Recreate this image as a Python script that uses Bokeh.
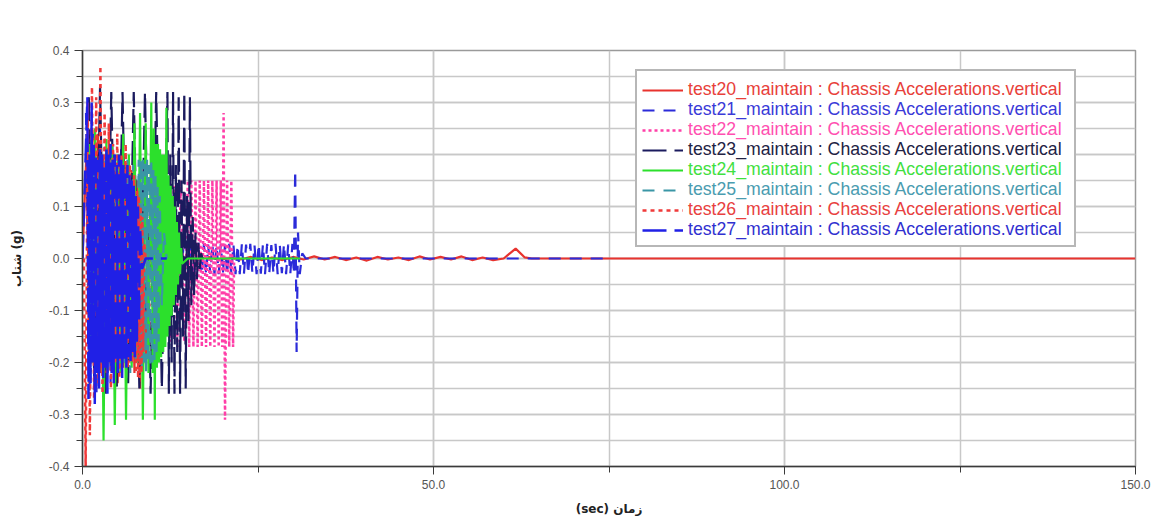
from bokeh.plotting import figure
from bokeh.models import (Range1d, SingleIntervalTicker, NumeralTickFormatter,
                          Legend, LegendItem)
from bokeh.embed import file_html
from bokeh.resources import INLINE

# ---------------- data ----------------
names = ["test20_maintain", "test21_maintain", "test22_maintain", "test23_maintain",
         "test24_maintain", "test25_maintain", "test26_maintain", "test27_maintain"]
quantity = "Chassis Accelerations.vertical"

t20 = [0.0, 0.6, 1.0, 1.4, 1.8, 2.2, 2.6, 3.0, 3.4, 3.8, 4.2, 4.6, 5.0, 5.4, 5.8, 6.2,
       6.6, 7.0, 7.4, 7.8, 8.2, 8.6, 9.0, 9.4, 9.8, 10.5,
       12.0, 13.5, 15.0, 16.5, 18.0, 19.5, 21.0, 22.5, 24.0, 25.5, 27.0, 28.5, 30.0,
       31.5, 33.0, 34.5, 36.0, 37.5, 39.0, 40.5, 42.0, 43.5, 45.0, 46.5, 48.0, 49.5,
       51.0, 52.5, 54.0, 55.5, 57.0, 58.5,
       60.0, 61.7, 63.0, 64.0, 150.0]
v20 = [0.0, 0.22, -0.24, 0.25, -0.2, 0.24, -0.22, 0.2, -0.23, 0.22, -0.2, 0.19, -0.24,
       0.2, -0.21, 0.18, -0.2, 0.17, -0.22, 0.15, -0.25, 0.1, -0.2, 0.05, -0.02, 0.0,
       0.002, -0.003, 0.003, -0.002, 0.003, -0.003, 0.002, -0.002, 0.003, -0.003, 0.002,
       -0.003, 0.003, -0.002, 0.004, -0.002, 0.003, -0.003, 0.002, -0.004, 0.003, -0.002,
       0.002, -0.003, 0.004, -0.002, 0.003, -0.002, 0.004, -0.003, 0.002, -0.003,
       0.0, 0.019, 0.002, 0.0, 0.0]

t21 = [0.5, 1.0, 1.5, 2.0, 2.5, 3.0, 3.5, 4.0, 4.5, 5.0, 5.5, 6.0, 6.5, 7.0, 7.5, 8.0, 8.5,
       9.0, 9.5, 10.0, 10.5, 11.0, 11.5, 12.0, 12.5, 13.0, 13.5, 14.0, 14.5, 15.0, 15.5,
       16.0, 16.5, 17.0,
       17.3, 17.6, 17.9, 18.2, 18.5, 18.8, 19.1, 19.4, 19.7, 20.0, 20.3, 20.6, 20.9, 21.2,
       21.5, 21.8, 22.1, 22.4, 22.7, 23.0, 23.3, 23.6, 23.9, 24.2, 24.5, 24.8, 25.1, 25.4,
       25.7, 26.0, 26.3, 26.6, 26.9, 27.2, 27.5, 27.8, 28.1, 28.4, 28.7, 29.0, 29.3, 29.6,
       29.9,
       30.1, 30.3, 30.5, 30.7, 30.95, 31.3, 31.8, 75.0]
v21 = [0.28, -0.25, 0.24, -0.26, 0.25, -0.22, 0.22, -0.24, 0.2, -0.22, 0.21, -0.2, 0.18,
       -0.2, 0.16, -0.18, 0.12,
       -0.1, 0.08, -0.08, 0.07, -0.07, 0.06, -0.06, 0.05, -0.05, 0.05, -0.04, 0.04, -0.04,
       0.035, -0.035, 0.03, -0.03,
       0.028, -0.03, 0.027, -0.029, 0.028, -0.03, 0.026, -0.03, 0.028, -0.029, 0.027,
       -0.03, 0.028, -0.028, 0.027, -0.03, 0.026, -0.03, 0.028, -0.029, 0.027, -0.03,
       0.028, -0.028, 0.026, -0.03, 0.028, -0.029, 0.027, -0.03, 0.028, -0.03, 0.026,
       -0.029, 0.028, -0.03, 0.027, -0.028, 0.028, -0.03, 0.027, -0.03, 0.028,
       -0.03, 0.17, -0.18, 0.05, -0.03, 0.01, 0.0, 0.0]

t22 = [1.0, 1.5, 2.0, 2.5, 3.0, 3.5, 4.0, 4.5, 5.0, 5.5, 6.0, 6.5, 7.0, 7.5, 8.0, 8.5,
       9.0, 9.5, 10.0, 10.5, 11.0, 11.5, 12.0, 12.5, 13.0, 13.5, 14.0, 14.5, 15.0,
       15.2, 15.5, 15.8, 16.1, 16.4, 16.7, 17.0, 17.3, 17.6, 17.9, 18.2, 18.5, 18.8, 19.1,
       19.4, 19.7, 19.9, 20.1, 20.3, 20.6, 20.9, 21.2, 21.45, 21.6, 22.0]
v22 = [0.14, -0.16, 0.15, -0.15, 0.13, -0.17, 0.15, -0.14, 0.15, -0.16, 0.14, -0.15,
       0.15, -0.17, 0.13, -0.16, 0.15, -0.15, 0.14, -0.16, 0.15, -0.17, 0.15, -0.16,
       0.14, -0.17, 0.15, -0.16, 0.15,
       -0.17, 0.15, -0.17, 0.15, -0.17, 0.15, -0.17, 0.15, -0.17, 0.15, -0.17, 0.15,
       -0.17, 0.15, -0.17, 0.15, -0.17, 0.28, -0.31, 0.15, -0.17, 0.15, -0.17, 0.0, 0.0]

t23 = [0.9, 1.7, 2.5, 3.3, 4.1, 4.9, 5.7, 6.5, 7.3, 8.1, 8.9, 9.7, 10.5, 11.3, 12.1,
       12.3, 12.5, 12.7, 12.9, 13.1, 13.3, 13.5, 13.7, 13.9, 14.1, 14.3, 14.5, 14.7, 14.9,
       15.1, 15.3, 15.5, 15.7, 15.9, 16.1, 16.3, 16.5, 16.7, 16.9, 17.1]
v23 = [0.31, -0.25, 0.33, -0.26, 0.32, -0.25, 0.32, -0.24, 0.32, -0.25, 0.32, -0.26,
       0.32, -0.25, 0.32,
       -0.26, 0.2, -0.2, 0.32, -0.26, 0.18, -0.18, 0.31, -0.26, 0.15, -0.15, 0.32, -0.25,
       0.12, -0.12, 0.31, -0.09, 0.08, -0.07, 0.05, -0.04, 0.03, -0.02, 0.01, 0.0]

t24 = [1.0, 1.4, 1.8, 2.2, 2.6, 3.0, 3.4, 3.8, 4.2, 4.6, 5.0, 5.4, 5.8, 6.2, 6.6, 7.0,
       7.4, 7.8, 8.2, 8.6, 9.0, 9.4, 9.8,
       10.0, 10.15, 10.3, 10.45, 10.6, 10.75, 10.9, 11.05, 11.2, 11.35, 11.5, 11.65, 11.8,
       11.95, 12.1, 12.25, 12.4, 12.55, 12.7, 12.85, 13.0, 13.15, 13.3, 13.45, 13.6,
       13.75, 13.9, 14.05, 14.2, 15.0, 31.0]
v24 = [0.22, -0.2, 0.25, -0.22, 0.2, -0.35, 0.23, -0.2, 0.22, -0.32, 0.2, -0.22, 0.24,
       -0.31, 0.2, -0.21, 0.26, -0.2, 0.28, -0.31, 0.26, -0.22, 0.3,
       -0.22, 0.25, -0.31, 0.22, -0.21, 0.22, -0.2, 0.21, -0.19, 0.2, -0.18, 0.2, -0.17,
       0.29, -0.15, 0.16, -0.13, 0.14, -0.11, 0.12, -0.09, 0.1, -0.07, 0.07, -0.05,
       0.05, -0.03, 0.02, -0.01, 0.0, 0.0]

t25 = [0.8, 1.2, 1.6, 2.0, 2.4, 2.8, 3.2, 3.6, 4.0, 4.4, 4.8, 5.2, 5.6, 6.0, 6.4, 6.8,
       7.2, 7.6, 8.0,
       8.15, 8.3, 8.45, 8.6, 8.75, 8.9, 9.05, 9.2, 9.35, 9.5, 9.65, 9.8, 9.95, 10.1,
       10.25, 10.4, 10.55, 10.7, 10.85, 11.0, 11.3, 11.6, 12.0]
v25 = [0.19, -0.2, 0.19, -0.21, 0.18, -0.2, 0.19, -0.22, 0.19, -0.2, 0.18, -0.21, 0.19,
       -0.2, 0.19, -0.22, 0.18, -0.2, 0.19,
       -0.2, 0.19, -0.21, 0.19, -0.2, 0.19, -0.22, 0.19, -0.2, 0.18, -0.21, 0.19, -0.2,
       0.17, -0.2, 0.16, -0.18, 0.14, -0.16, 0.12, -0.09, 0.05, 0.0]

t26 = [0.2, 0.45, 0.75, 1.05, 1.35, 1.65, 1.95, 2.25, 2.55, 2.85, 3.15, 3.45, 3.75, 4.05,
       4.35, 4.65, 4.95, 5.25, 5.55, 5.85, 6.15, 6.45, 6.75, 7.05, 7.35, 7.65,
       7.8, 7.92, 8.04, 8.16, 8.28, 8.4, 8.52, 8.64, 8.8, 9.0]
v26 = [0.0, -0.4, 0.3, -0.34, 0.33, -0.27, 0.31, -0.24, 0.37, -0.26, 0.28, -0.22, 0.26,
       -0.25, 0.22, -0.2, 0.24, -0.23, 0.2, -0.19, 0.22, -0.21, 0.18, -0.2, 0.16, -0.22,
       0.13, -0.23, 0.12, -0.23, 0.1, -0.22, 0.08, -0.18, 0.03, 0.0]

t27 = [0.0, 0.7, 0.85, 1.0, 1.15, 1.3, 1.45, 1.6, 1.75, 1.9, 2.05, 2.2, 2.35, 2.5, 2.65,
       2.8, 2.95, 3.1, 3.25, 3.4, 3.55, 3.7, 3.85, 4.0, 4.15, 4.3, 4.45, 4.6, 4.75, 4.9,
       5.05, 5.2, 5.35, 5.5, 5.65, 5.8, 5.95, 6.1, 6.25, 6.4, 6.55, 6.7, 6.85, 7.0, 7.15,
       7.3, 7.45, 7.6, 7.75, 7.9, 8.05, 8.2, 8.5, 9.0, 12.0]
v27 = [0.0, 0.31, -0.27, 0.2, -0.24, 0.3, -0.2, 0.22, -0.28, 0.2, -0.22, 0.19, -0.25,
       0.21, -0.2, 0.2, -0.23, 0.18, -0.21, 0.21, -0.26, 0.2, -0.2, 0.22, -0.22, 0.19,
       -0.24, 0.2, -0.2, 0.18, -0.22, 0.2, -0.2, 0.19, -0.23, 0.18, -0.2, 0.17, -0.21,
       0.18, -0.19, 0.16, -0.2, 0.15, -0.18, 0.14, -0.19, 0.12, -0.16, 0.1, -0.12, 0.06,
       -0.02, 0.0, 0.0]

series_t = [t20, t21, t22, t23, t24, t25, t26, t27]
series_v = [v20, v21, v22, v23, v24, v25, v26, v27]

# ---------------- styles ----------------
line_colors = ["#e8332e", "#2b2bd9", "#ff3fa8", "#1b1b5e",
               "#2ce02c", "#3a96a6", "#f03a3a", "#2020e6"]
text_colors = ["#e8403a", "#3a3ad8", "#ff4fb0", "#222244",
               "#3fe03f", "#4a9cb0", "#e84040", "#3030d0"]
dashes = ["solid", "12 9", "3 3", "24 8", "solid", "12 9", "4 4", "24 8"]
widths = [2.2, 2.2, 2.5, 2.2, 2.2, 2.2, 2.5, 2.5]

p = figure(width=1164, height=520, x_range=Range1d(0, 150), y_range=Range1d(-0.4, 0.4),
           output_backend="svg", toolbar_location=None,
           min_border_left=82, min_border_right=29, min_border_top=50, min_border_bottom=54,
           background_fill_color="white", border_fill_color="white")

p.xaxis.ticker = SingleIntervalTicker(interval=50, num_minor_ticks=2)
p.yaxis.ticker = SingleIntervalTicker(interval=0.1, num_minor_ticks=2)
p.xaxis.formatter = NumeralTickFormatter(format="0.0")
p.yaxis.formatter = NumeralTickFormatter(format="0.0")

for ax in (p.xaxis[0], p.yaxis[0]):
    ax.axis_line_color = "#3a3a3a"
    ax.axis_line_width = 1.5
    ax.major_tick_line_color = "#3a3a3a"
    ax.minor_tick_line_color = "#3a3a3a"
    ax.major_tick_in = 0
    ax.minor_tick_in = 0
    ax.major_tick_out = 8
    ax.minor_tick_out = 6
    ax.major_label_text_color = "#555555"
    ax.major_label_text_font = "Liberation Sans"
    ax.major_label_text_font_size = "12px"
    ax.axis_label_text_font = "DejaVu Sans"
    ax.axis_label_text_font_style = "bold"
    ax.axis_label_text_font_size = "12px"
    ax.axis_label_text_color = "#222222"

p.xaxis.axis_label = "(sec) زمان"
p.yaxis.axis_label = "شتاب (g)"
p.xaxis.axis_label_standoff = 10
p.yaxis.axis_label_standoff = 22

for g in (p.xgrid[0], p.ygrid[0]):
    g.grid_line_color = "#c8c8c8"
    g.grid_line_width = 1.5
    g.minor_grid_line_color = "#c8c8c8"
    g.minor_grid_line_width = 1.5

p.outline_line_color = "#9a9a9a"
p.outline_line_width = 1.5

renderers = []
for t, v, c, d, w in zip(series_t, series_v, line_colors, dashes, widths):
    n = min(len(t), len(v))
    r = p.line(t[:n], v[:n], line_color=c, line_width=w, line_dash=d)
    renderers.append(r)

labels = [f"{nm} : {quantity}" for nm in names]

# legend frame: one item with an invisible glyph, sized to the box
LX, LY, PAD, ROW = 553, 219, 7, 20
blank = p.line([], [], line_alpha=0)
frame_leg = Legend(items=[LegendItem(label=" ", renderers=[blank])],
                   location=(LX, LY), padding=PAD, spacing=0, margin=0,
                   glyph_width=403, glyph_height=8 * ROW, label_height=8 * ROW,
                   label_width=20, label_standoff=0, label_text_font_size="17.7px",
                   label_text_alpha=0,
                   border_line_color="#707070", border_line_width=2,
                   background_fill_color="white", background_fill_alpha=1)
p.add_layout(frame_leg)

common = dict(padding=PAD, spacing=0, label_height=ROW, glyph_height=ROW, glyph_width=41,
              label_standoff=5, label_text_font="Liberation Sans",
              label_text_font_size="17.7px", margin=0)
for i, (l, r, tc) in enumerate(zip(labels, renderers, text_colors)):
    lg = Legend(items=[LegendItem(label=l, renderers=[r])],
                location=(LX, LY + (7 - i) * ROW), label_text_color=tc,
                border_line_alpha=0, background_fill_alpha=0, **common)
    p.add_layout(lg)

open("out.html", "w").write(file_html(p, INLINE))
